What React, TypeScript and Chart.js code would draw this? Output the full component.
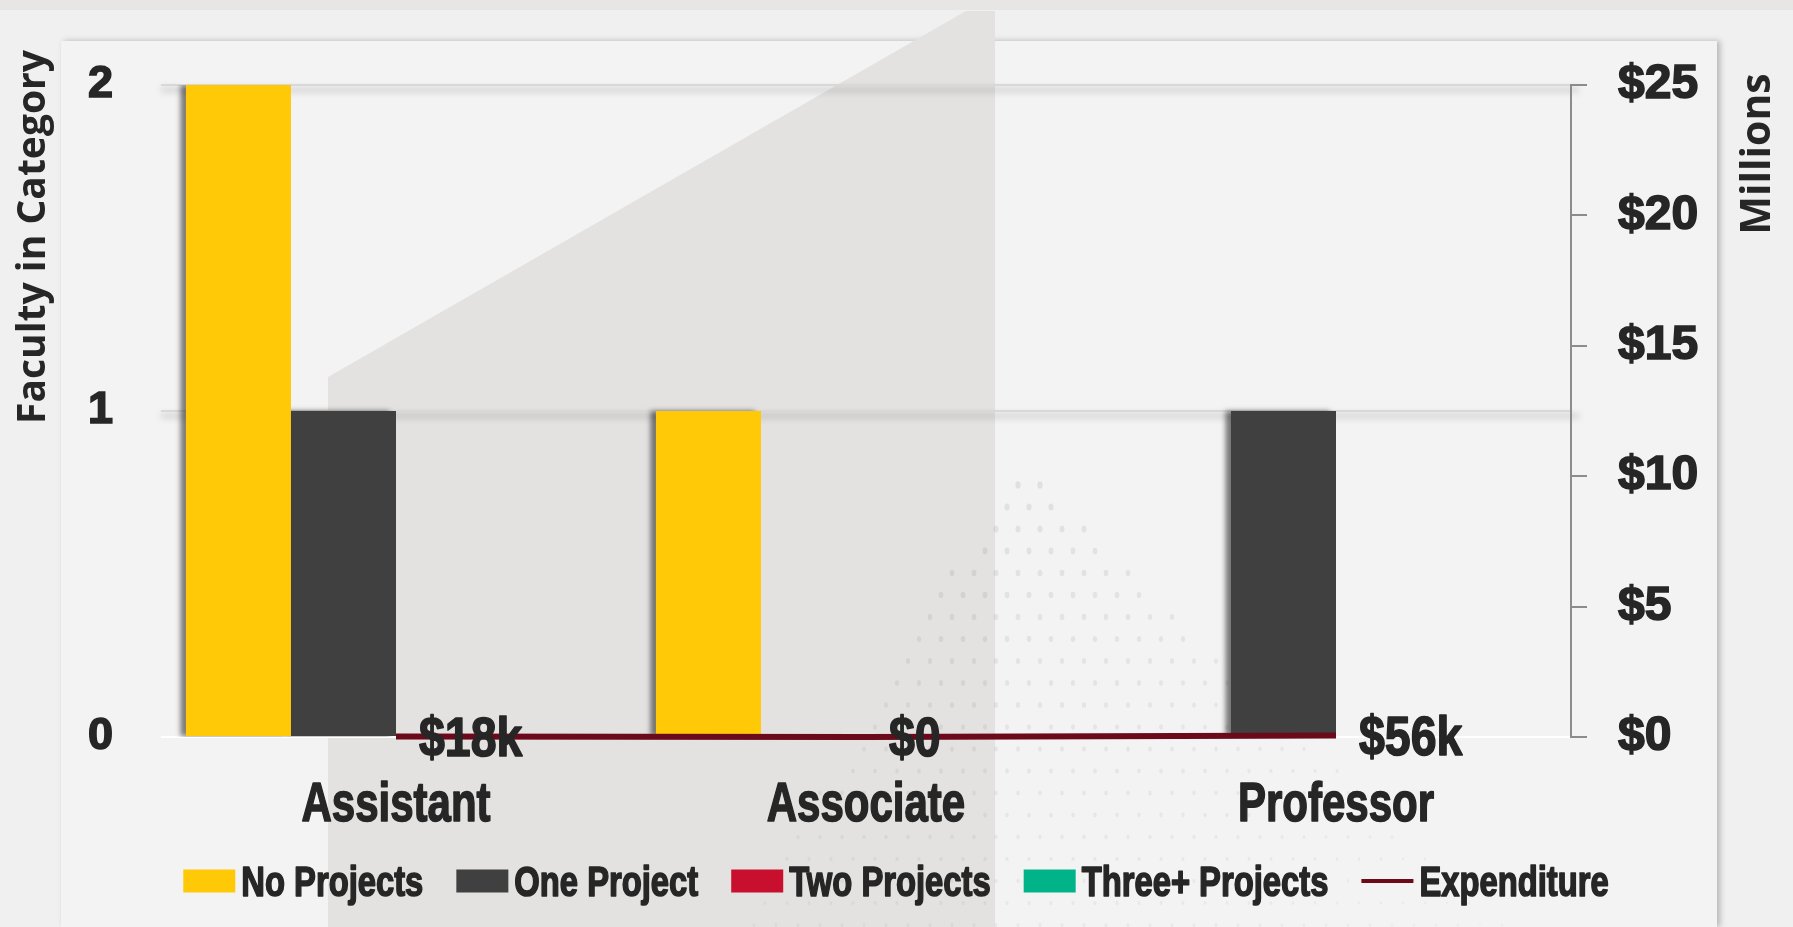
import React, { useEffect, useRef } from "react";
import { Chart, registerables } from "chart.js";

Chart.register(...registerables);

const categories = ["Assistant", "Associate", "Professor"];
const noProjects = [2, 1, 0];
const oneProject = [1, 0, 1];
const twoProjects = [0, 0, 0];
const threePlusProjects = [0, 0, 0];
// Expenditure in millions of dollars
const expenditure = [0.018, 0, 0.056];
const leftTicks = [0, 1, 2];
const rightTickStep = 5;
const rightMax = 25;

const WIDE = "'Liberation Sans', Arial, sans-serif";
const TITLE = "'Open Sans', 'Noto Sans', sans-serif";
const TEXT = "#262626";

const fmtMoney = (v: number) => (v === 0 ? "$0" : `$${Math.round(v * 1000)}k`);

// draw horizontally condensed, heavy text (emulates a narrow bold typeface)
function narrowText(ctx: any, text: string, x: number, y: number, size: number, sx: number, align: string) {
  ctx.save();
  ctx.font = `bold ${size}px ${WIDE}`;
  const w = ctx.measureText(text).width * sx;
  let left = x;
  if (align === "center") left = x - w / 2;
  else if (align === "right") left = x - w;
  ctx.translate(left, y);
  ctx.scale(sx, 1);
  ctx.textAlign = "left";
  ctx.textBaseline = "alphabetic";
  ctx.fillStyle = TEXT;
  ctx.strokeStyle = TEXT;
  ctx.lineWidth = 1.6;
  ctx.lineJoin = "round";
  ctx.fillText(text, 0, 0);
  ctx.strokeText(text, 0, 0);
  ctx.restore();
  return w;
}

const bgPlugin = {
  id: "bg",
  beforeDraw(chart: any) {
    const ctx = chart.ctx;
    const W = chart.width;
    const H = chart.height;
    ctx.save();
    ctx.fillStyle = "#f1f0f0";
    ctx.fillRect(0, 0, W, H);
    ctx.fillStyle = "#e8e6e5";
    ctx.fillRect(0, 0, W, 10);
    ctx.shadowColor = "rgba(0,0,0,0.25)";
    ctx.shadowBlur = 6;
    ctx.shadowOffsetX = 3;
    ctx.fillStyle = "#f4f3f3";
    ctx.fillRect(61, 41, 1656, H - 41);
    ctx.shadowColor = "transparent";
    ctx.fillStyle = "#e3e2e1";
    ctx.beginPath();
    ctx.moveTo(328, 377);
    ctx.lineTo(966, 11);
    ctx.lineTo(995, 11);
    ctx.lineTo(995, H);
    ctx.lineTo(328, H);
    ctx.closePath();
    ctx.fill();

    // faint halftone dots
    const ax = 1018, ay = 463;
    let row = 0;
    for (let y = ay; y < H; y += 22, row++) {
      const dy = y - ay;
      const xl = ax - dy * 0.6;
      const xr = ax + dy * 1.05;
      const off = row % 2 ? 11 : 0;
      for (let x = 61 + off; x < 1715; x += 22) {
        if (x < xl || x > xr) continue;
        const d = Math.hypot(x - ax, y - ay);
        const f = Math.max(0, 1 - d / 700);
        const r = 1.2 + 2.2 * f;
        ctx.fillStyle = `rgba(0,0,0,${0.025 + 0.05 * f})`;
        ctx.beginPath();
        ctx.ellipse(x, y, r * 0.8, r * 1.1, 0, 0, Math.PI * 2);
        ctx.fill();
      }
    }

    // soft shadow beneath the horizontal gridlines
    const ys = chart.scales.y;
    const ca = chart.chartArea;
    ctx.filter = "blur(3px)";
    ctx.strokeStyle = "rgba(0,0,0,0.13)";
    ctx.lineWidth = 5;
    ys.ticks.forEach((t: any) => {
      if (t.value === 0) return;
      const py = ys.getPixelForValue(t.value) + 5;
      ctx.beginPath();
      ctx.moveTo(ca.left, py);
      ctx.lineTo(ca.right + 8, py);
      ctx.stroke();
    });
    ctx.filter = "none";
    ctx.restore();
  },
};

const shadowPlugin = {
  id: "barShadow",
  beforeDatasetDraw(chart: any, args: any) {
    if (chart.data.datasets[args.index].type === "line") return;
    const ctx = chart.ctx;
    ctx.save();
    ctx.shadowColor = "rgba(0,0,0,0.5)";
    ctx.shadowBlur = 5;
    ctx.shadowOffsetX = -6;
    ctx.shadowOffsetY = 0;
  },
  afterDatasetDraw(chart: any, args: any) {
    if (chart.data.datasets[args.index].type === "line") return;
    chart.ctx.restore();
  },
};

const labelsPlugin = {
  id: "extras",
  afterDraw(chart: any) {
    const ctx = chart.ctx;
    ctx.save();

    // category labels placed by the x scale
    const xs = chart.scales.x;
    chart.data.labels.forEach((lab: string, i: number) => {
      narrowText(ctx, lab, xs.getPixelForTick(i), 821, 56, 0.75, "center");
    });

    // data labels for expenditure
    const idx = chart.data.datasets.findIndex((d: any) => d.type === "line");
    const meta = chart.getDatasetMeta(idx);
    meta.data.forEach((el: any, i: number) => {
      narrowText(ctx, fmtMoney(expenditure[i]), el.x + 23, el.y + 19, 56, 0.83, "left");
    });

    // axis titles
    ctx.fillStyle = TEXT;
    ctx.font = `bold 39px ${TITLE}`;
    ctx.textAlign = "center";
    ctx.textBaseline = "middle";
    ctx.save();
    ctx.translate(34, 237);
    ctx.rotate(-Math.PI / 2);
    ctx.fillText("Faculty in Category", 0, 0);
    ctx.restore();
    ctx.save();
    ctx.translate(1758, 154);
    ctx.rotate(-Math.PI / 2);
    ctx.font = `bold 41px ${TITLE}`;
    ctx.fillText("Millions", 0, 0);
    ctx.restore();

    // legend
    const ds = chart.data.datasets;
    const fs = 42, sx = 0.78;
    ctx.font = `bold ${fs}px ${WIDE}`;
    const boxW = 52, boxH = 23, gap = 6, spacing = 33;
    const widths = ds.map((d: any) => boxW + gap + ctx.measureText(d.label).width * sx);
    const total = widths.reduce((a: number, b: number) => a + b, 0) + spacing * (ds.length - 1);
    let x = 896 - total / 2;
    const cy = 881;
    ds.forEach((d: any, i: number) => {
      if (d.type === "line") {
        ctx.strokeStyle = d.borderColor;
        ctx.lineWidth = 4;
        ctx.beginPath();
        ctx.moveTo(x, cy);
        ctx.lineTo(x + boxW, cy);
        ctx.stroke();
      } else {
        ctx.fillStyle = d.backgroundColor;
        ctx.fillRect(x, cy - boxH / 2, boxW, boxH);
      }
      narrowText(ctx, d.label, x + boxW + gap, 896, fs, sx, "left");
      x += widths[i] + spacing;
    });
    ctx.restore();
  },
};

export default function App() {
  const ref = useRef<HTMLCanvasElement | null>(null);
  useEffect(() => {
    document.body.style.margin = "0";
    const chart = new Chart(ref.current as HTMLCanvasElement, {
      type: "bar",
      data: {
        labels: categories,
        datasets: [
          { type: "bar", label: "No Projects", data: noProjects, backgroundColor: "#ffc907", yAxisID: "y", order: 1 },
          { type: "bar", label: "One Project", data: oneProject, backgroundColor: "#404040", yAxisID: "y", order: 1 },
          { type: "bar", label: "Two Projects", data: twoProjects, backgroundColor: "#c8102e", yAxisID: "y", order: 1 },
          { type: "bar", label: "Three+ Projects", data: threePlusProjects, backgroundColor: "#00b388", yAxisID: "y", order: 1 },
          {
            type: "line",
            label: "Expenditure",
            data: expenditure,
            borderColor: "#6a0a1b",
            backgroundColor: "#6a0a1b",
            borderWidth: 6,
            pointRadius: 0,
            clip: false,
            yAxisID: "y1",
            order: 0,
          },
        ] as any,
      },
      options: {
        responsive: false,
        animation: false,
        layout: { padding: { top: 85, left: 0, right: 0, bottom: 0 } },
        datasets: { bar: { categoryPercentage: 0.894, barPercentage: 1.0 } },
        plugins: { legend: { display: false }, tooltip: { enabled: false } },
        scales: {
          x: {
            grid: { display: false, drawTicks: false },
            border: { display: false },
            ticks: { font: { family: WIDE, size: 52, weight: "bold" }, color: "rgba(0,0,0,0)", padding: 28 },
            afterFit: (s: any) => {
              s.height = 927 - 737;
            },
          },
          y: {
            position: "left",
            min: leftTicks[0],
            max: leftTicks[leftTicks.length - 1],
            ticks: {
              stepSize: 1,
              font: { family: WIDE, size: 45, weight: "bold" },
              color: TEXT,
              textStrokeColor: TEXT,
              textStrokeWidth: 1.6,
              padding: 48,
            },
            grid: {
              color: (c: any) => (c.tick && c.tick.value === 0 ? "#ffffff" : "#d9d8d8"),
              lineWidth: 2,
              drawTicks: false,
            },
            border: { display: false },
            afterFit: (s: any) => {
              s.width = 161;
            },
          },
          y1: {
            position: "right",
            min: 0,
            max: rightMax,
            ticks: {
              stepSize: rightTickStep,
              font: { family: WIDE, size: 48, weight: "bold" },
              color: TEXT,
              textStrokeColor: TEXT,
              textStrokeWidth: 1.6,
              padding: 31,
              callback: (v: any) => `$${v}`,
            },
            grid: { drawOnChartArea: false, color: "#8c8c8c", lineWidth: 2, tickLength: 16 },
            border: { display: true, color: "#8c8c8c", width: 2 },
            afterFit: (s: any) => {
              s.width = 1793 - 1571;
            },
          },
        },
      } as any,
      plugins: [bgPlugin, shadowPlugin, labelsPlugin],
    });
    return () => chart.destroy();
  }, []);
  return (
    <div style={{ position: "fixed", left: 0, top: 0, width: 1793, height: 927 }}>
      <canvas ref={ref} width={1793} height={927} style={{ display: "block" }} />
    </div>
  );
}
